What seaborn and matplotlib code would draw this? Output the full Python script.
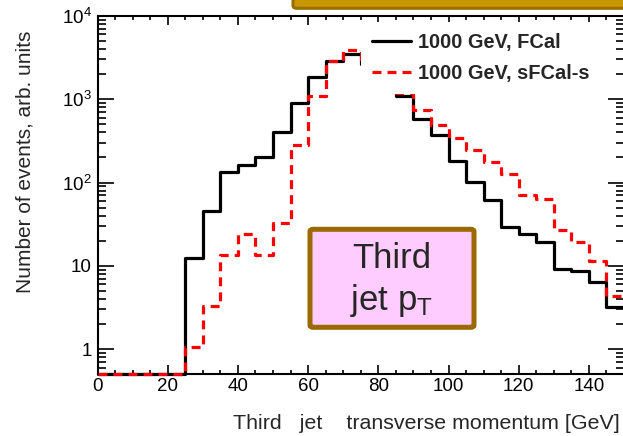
import numpy as np
import pandas as pd
import matplotlib
matplotlib.use("Agg")
import matplotlib.pyplot as plt
import seaborn as sns
from matplotlib.patches import Rectangle, FancyBboxPatch
from matplotlib.lines import Line2D
from matplotlib.ticker import MultipleLocator, LogLocator, FixedLocator, FixedFormatter, NullFormatter

# ---------------- data ----------------
bin_edges = list(range(0, 155, 5))          # 30 bins of 5 GeV, 0..150
fcal = [0, 0, 0, 0, 0, 12.6, 45.8, 133, 163, 205, 406, 903, 1825, 2864, 3454,
        2650, 1700, 1090, 580, 370, 183, 101, 62, 29.4, 23.9, 19.6, 9.2, 8.6, 6.4, 3.2]
sfcal = [0, 0, 0, 0, 0, 1.05, 3.26, 13.6, 24.3, 13.6, 32.6, 279, 1099, 2900, 3868,
         2750, 1800, 1175, 734, 491, 347, 247, 175, 128, 71.6, 64, 26.6, 19.6, 11.3, 4.3]
series_labels = ["1000 GeV, FCal", "1000 GeV, sFCal-s"]
x_ticks = [0, 20, 40, 60, 80, 100, 120, 140]
y_ticks = [1, 10, 100, 1000, 10000]
y_tick_labels = ["1", "10", r"$10^{2}$", r"$10^{3}$", r"$10^{4}$"]
x_label = "Third   jet    transverse momentum [GeV]"
y_label = "Number of events, arb. units"
box_line1 = "Third"
box_line2 = r"jet p$_{T}$"
y_min, y_max = 0.5, 1e4
x_min, x_max = 0, 150

# ---------------- style ----------------
sns.set_style("ticks")
plt.rcParams["font.family"] = ["Liberation Sans", "DejaVu Sans"]
plt.rcParams["mathtext.fontset"] = "custom"
plt.rcParams["mathtext.rm"] = "Liberation Sans"
plt.rcParams["mathtext.it"] = "Liberation Sans"
plt.rcParams["mathtext.bf"] = "Liberation Sans:bold"
plt.rcParams["mathtext.default"] = "regular"
plt.rcParams["axes.linewidth"] = 1.5

W, H = 623, 436
fig = plt.figure(figsize=(W / 100, H / 100), dpi=100)
ax_l, ax_r, ax_t, ax_b = 97.5, 624.0, 15.9, 374.3
ax = fig.add_axes([ax_l / W, 1 - ax_b / H, (ax_r - ax_l) / W, (ax_b - ax_t) / H])

def step_frame(vals):
    v = np.clip(np.array(vals + [vals[-1]], dtype=float), y_min, None)
    return pd.DataFrame({"pt": bin_edges, "events": v})

sns.lineplot(data=step_frame(fcal), x="pt", y="events", ax=ax, color="black",
             lw=2.3, drawstyle="steps-post", estimator=None, sort=False, zorder=2.6,
             clip_on=False)
sns.lineplot(data=step_frame(sfcal), x="pt", y="events", ax=ax, color="#ff0000",
             lw=2.3, drawstyle="steps-post", estimator=None, sort=False, zorder=2.7,
             linestyle=(0, (2.8, 1.9)), clip_on=False)

ax.set_yscale("log")
ax.set_xlim(x_min, x_max)
ax.set_ylim(y_min, y_max)

ax.xaxis.set_major_locator(FixedLocator(x_ticks))
ax.xaxis.set_minor_locator(MultipleLocator(5))
ax.yaxis.set_major_locator(FixedLocator(y_ticks))
ax.yaxis.set_major_formatter(FixedFormatter(y_tick_labels))
ax.yaxis.set_minor_locator(LogLocator(base=10, subs=np.arange(2, 10)))
ax.yaxis.set_minor_formatter(NullFormatter())

ax.tick_params(which="both", direction="in", top=True, right=True, width=1.2,
               labelsize=13.5, colors="black")
ax.tick_params(axis="y", which="major", length=11.5, pad=4)
ax.tick_params(axis="y", which="minor", length=6)
ax.tick_params(axis="x", which="major", length=6.5, pad=3)
ax.tick_params(axis="x", which="minor", length=3.2)
for s in ax.spines.values():
    s.set_color("black")

ax.set_xlabel(x_label, fontsize=15.4, ha="right", va="baseline")
ax.xaxis.set_label_coords((620 - ax_l) / (ax_r - ax_l), (ax_b - 429.4) / (ax_b - ax_t))
ax.set_ylabel(y_label, fontsize=15)
ax.yaxis.set_label_coords((34.4 - ax_l) / (ax_r - ax_l), (ax_b - 161.5) / (ax_b - ax_t))

def ax_x(px):
    return (px - ax_l) / (ax_r - ax_l)

def ax_y(py):
    return (ax_b - py) / (ax_b - ax_t)

# white legend area (covers the histograms like the original)
ax.add_patch(Rectangle((ax_x(361), ax_y(94)), ax_x(600) - ax_x(361), ax_y(22) - ax_y(94),
                       transform=ax.transAxes, facecolor="white", edgecolor="none", zorder=3))
handles = [Line2D([], [], color="black", lw=2.3),
           Line2D([], [], color="#ff0000", lw=2.3, linestyle=(0, (2.8, 1.9)))]
leg = ax.legend(handles, series_labels, loc="center left",
                bbox_to_anchor=(ax_x(372), ax_y(58.2)), frameon=False, borderpad=0,
                borderaxespad=0, handlelength=1.95, handletextpad=0.35, labelspacing=0.6,
                prop={"family": "Liberation Sans", "weight": "bold", "size": 14.4})
leg.set_zorder(5)

# pink label box
ax.add_patch(FancyBboxPatch((ax_x(310), ax_y(327.3)), ax_x(474) - ax_x(310), ax_y(229.3) - ax_y(327.3),
                            boxstyle="round,pad=0,rounding_size=0.006", transform=ax.transAxes,
                            facecolor="#ffccff", edgecolor="#9a6a00", lw=3.6, zorder=6))
ax.text(ax_x(392), ax_y(268.3), box_line1, transform=ax.transAxes, ha="center",
        va="baseline", fontsize=25, zorder=7)
ax.text(ax_x(392), ax_y(310), box_line2, transform=ax.transAxes, ha="center",
        va="baseline", fontsize=25, zorder=7)

# gold banner at the top edge
fig.add_artist(FancyBboxPatch((293 / W, 1 - 8.3 / H), 0.7, 0.1,
                              boxstyle="round,pad=0,rounding_size=0.006",
                              transform=fig.transFigure, facecolor="#c89600",
                              edgecolor="#9a6e00", lw=2.2, clip_on=False))

fig.savefig("out.png", dpi=100)
